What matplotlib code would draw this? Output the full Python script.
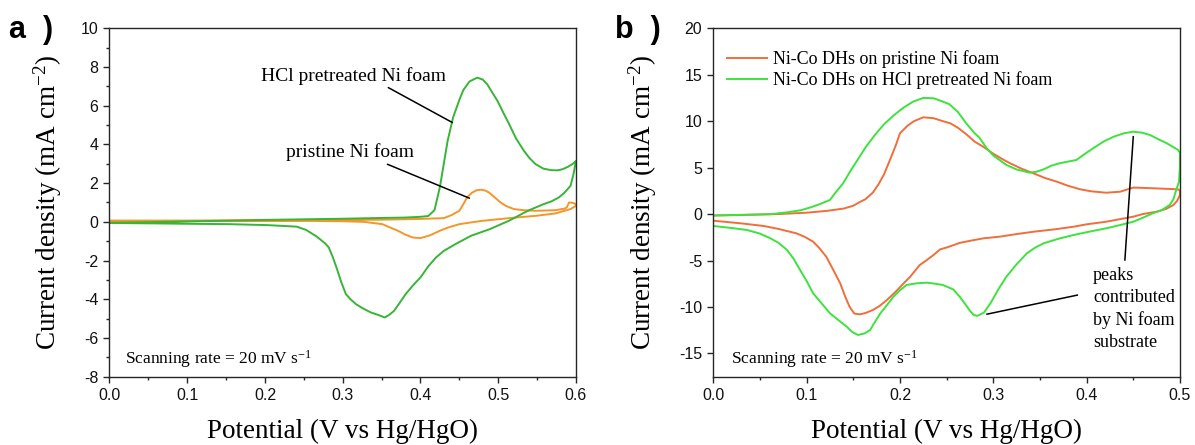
import matplotlib
matplotlib.use("Agg")
import matplotlib.pyplot as plt
from matplotlib.ticker import MultipleLocator
import numpy as np

# ---------------- data: panel a (bare Ni foam CVs) ----------------
a_green_up_v = [0.0, 0.05, 0.10, 0.15, 0.20, 0.25, 0.30, 0.35, 0.38, 0.40, 0.41, 0.418, 0.425, 0.43,
                0.435, 0.442, 0.45, 0.455, 0.463, 0.473, 0.48, 0.486, 0.492, 0.499, 0.507, 0.514,
                0.523, 0.533, 0.54, 0.548, 0.558, 0.568, 0.576, 0.583, 0.59, 0.596, 0.6]
a_green_up_j = [-0.05, -0.02, 0.02, 0.06, 0.10, 0.13, 0.16, 0.20, 0.22, 0.26, 0.30, 0.6, 1.8, 3.0,
                4.2, 5.4, 6.3, 6.8, 7.25, 7.45, 7.35, 7.1, 6.7, 6.25, 5.6, 5.05,
                4.3, 3.67, 3.3, 2.98, 2.75, 2.67, 2.66, 2.72, 2.85, 3.0, 3.15]
a_green_dn_v = [0.6, 0.597, 0.593, 0.585, 0.578, 0.568, 0.558, 0.538, 0.514, 0.489, 0.465, 0.445,
                0.43, 0.42, 0.41, 0.40, 0.39, 0.381, 0.373, 0.366, 0.36, 0.354, 0.345, 0.336,
                0.325, 0.317, 0.31, 0.304, 0.298, 0.292, 0.287, 0.282, 0.277, 0.2665, 0.253,
                0.241, 0.218, 0.203, 0.154, 0.10, 0.056, 0.0]
a_green_dn_j = [3.15, 2.5, 1.86, 1.5, 1.26, 1.05, 0.91, 0.57, 0.06, -0.38, -0.72, -1.15,
                -1.5, -1.84, -2.3, -2.87, -3.3, -3.73, -4.2, -4.6, -4.8, -4.94, -4.8, -4.68,
                -4.45, -4.25, -4.0, -3.73, -3.1, -2.36, -1.8, -1.32, -1.1, -0.76, -0.42,
                -0.25, -0.2, -0.17, -0.12, -0.1, -0.08, -0.06]

a_orange_up_v = [0.0, 0.05, 0.10, 0.15, 0.20, 0.25, 0.30, 0.35, 0.40, 0.43, 0.44, 0.45, 0.455, 0.46,
                 0.466, 0.472, 0.478, 0.483, 0.488, 0.495, 0.503, 0.51, 0.52, 0.533, 0.548, 0.573,
                 0.585, 0.588, 0.59, 0.591, 0.596, 0.6]
a_orange_up_j = [0.06, 0.06, 0.06, 0.07, 0.08, 0.09, 0.10, 0.11, 0.15, 0.19, 0.35, 0.57, 0.9, 1.26,
                 1.5, 1.63, 1.66, 1.62, 1.52, 1.28, 1.0, 0.82, 0.66, 0.6, 0.57, 0.6,
                 0.68, 0.74, 0.9, 1.0, 0.98, 0.91]
a_orange_dn_v = [0.6, 0.593, 0.573, 0.548, 0.514, 0.479, 0.45, 0.435, 0.425, 0.412, 0.40, 0.39,
                 0.38, 0.371, 0.36, 0.351, 0.327, 0.30, 0.253, 0.2, 0.105, 0.05, 0.0]
a_orange_dn_j = [0.83, 0.66, 0.43, 0.31, 0.19, 0.05, -0.12, -0.3, -0.46, -0.7, -0.84, -0.81,
                 -0.65, -0.46, -0.28, -0.12, 0.0, 0.03, 0.05, 0.05, 0.05, 0.05, 0.05]

# ---------------- data: panel b (Ni-Co DHs CVs) ----------------
b_green_up_v = [0.0, 0.03, 0.061, 0.08, 0.094, 0.105, 0.114, 0.125, 0.131, 0.139, 0.147, 0.155, 0.163,
                0.173, 0.183, 0.193, 0.204, 0.214, 0.225, 0.236, 0.246, 0.253, 0.262, 0.271, 0.28,
                0.285, 0.293, 0.3, 0.307, 0.314, 0.325, 0.339, 0.346, 0.354, 0.362, 0.371, 0.38,
                0.389, 0.397, 0.407, 0.418, 0.429, 0.44, 0.45, 0.46, 0.468, 0.478, 0.486, 0.493,
                0.498, 0.5]
b_green_up_j = [-0.15, -0.08, -0.01, 0.2, 0.42, 0.75, 1.07, 1.52, 2.32, 3.3, 4.65, 5.9, 7.16,
                8.5, 9.67, 10.6, 11.47, 12.1, 12.5, 12.47, 12.1, 11.82, 11.0, 9.77, 8.7,
                8.24, 7.08, 6.3, 5.8, 5.29, 4.8, 4.46, 4.55, 4.82, 5.2, 5.47, 5.65,
                5.82, 6.4, 7.08, 7.8, 8.33, 8.7, 8.87, 8.75, 8.51, 8.0, 7.62, 7.2,
                6.9, 6.6]
b_green_dn_v = [0.5, 0.499, 0.496, 0.493, 0.489, 0.48, 0.471, 0.46, 0.45, 0.435, 0.421, 0.4, 0.386,
                0.37, 0.354, 0.345, 0.336, 0.325, 0.314, 0.306, 0.297, 0.29, 0.283, 0.279, 0.275,
                0.27, 0.264, 0.257, 0.246, 0.236, 0.229, 0.218, 0.207, 0.2, 0.193, 0.186, 0.179,
                0.172, 0.168, 0.162, 0.155, 0.149, 0.143, 0.134, 0.125, 0.116, 0.107, 0.1, 0.093,
                0.086, 0.079, 0.07, 0.061, 0.05, 0.036, 0.02, 0.0]
b_green_dn_j = [5.1, 3.5, 2.6, 1.6, 0.98, 0.4, 0.09, -0.4, -0.82, -1.2, -1.53, -1.95, -2.25,
                -2.65, -3.14, -3.6, -4.22, -5.4, -6.74, -8.0, -9.6, -10.6, -10.95, -10.86, -10.41,
                -9.7, -8.89, -8.1, -7.63, -7.47, -7.38, -7.45, -7.63, -8.2, -8.89, -9.8, -10.68,
                -11.8, -12.48, -12.85, -13.01, -12.7, -12.12, -11.4, -10.68, -9.6, -8.53, -7.2, -6.02,
                -4.8, -3.86, -3.1, -2.6, -2.1, -1.71, -1.5, -1.28]

b_orange_up_v = [0.0, 0.03, 0.071, 0.1, 0.122, 0.14, 0.15, 0.157, 0.163, 0.171, 0.177, 0.183, 0.19,
                 0.196, 0.2, 0.208, 0.215, 0.225, 0.236, 0.246, 0.254, 0.262, 0.271, 0.28, 0.289,
                 0.3, 0.31, 0.318, 0.33, 0.343, 0.355, 0.368, 0.38, 0.393, 0.405, 0.421, 0.436,
                 0.445, 0.45, 0.46, 0.471, 0.485, 0.498, 0.5]
b_orange_up_j = [-0.15, -0.1, 0.01, 0.15, 0.35, 0.6, 0.9, 1.3, 1.6, 2.32, 3.2, 4.29, 6.0,
                 7.52, 8.7, 9.5, 10.0, 10.42, 10.32, 10.0, 9.77, 9.3, 8.6, 7.8, 7.26,
                 6.5, 5.9, 5.47, 4.9, 4.39, 3.9, 3.49, 3.05, 2.67, 2.45, 2.3, 2.41,
                 2.7, 2.85, 2.82, 2.78, 2.72, 2.67, 2.5]
b_orange_dn_v = [0.5, 0.497, 0.493, 0.485, 0.475, 0.46, 0.45, 0.421, 0.4, 0.386, 0.365, 0.343, 0.325,
                 0.307, 0.29, 0.279, 0.264, 0.25, 0.243, 0.236, 0.228, 0.221, 0.211, 0.204, 0.196,
                 0.186, 0.178, 0.171, 0.163, 0.157, 0.151, 0.146, 0.141, 0.136, 0.128, 0.121, 0.114,
                 0.107, 0.098, 0.089, 0.07, 0.054, 0.03, 0.0]
b_orange_dn_j = [2.06, 1.43, 0.98, 0.55, 0.26, 0.0, -0.28, -0.82, -1.1, -1.36, -1.65, -1.9, -2.15,
                 -2.43, -2.6, -2.8, -3.1, -3.6, -3.8, -4.4, -5.0, -5.5, -6.74, -7.45, -8.3,
                 -9.25, -9.9, -10.32, -10.65, -10.79, -10.7, -9.97, -8.8, -7.45, -5.9, -4.58, -3.7,
                 -2.97, -2.45, -2.07, -1.6, -1.28, -1.0, -0.71]

legend_labels = ["Ni-Co DHs on pristine Ni foam", "Ni-Co DHs on HCl pretreated Ni foam"]
xlabel = "Potential (V vs Hg/HgO)"
ylabel = "Current density (mA cm$^{-2}$)"
rate_text = "Scanning rate = 20 mV s$^{-1}$"

# ---------------- style ----------------
plt.rcParams["font.family"] = ["Liberation Serif", "DejaVu Serif"]
plt.rcParams["mathtext.default"] = "regular"
plt.rcParams["axes.unicode_minus"] = False

GREEN_A = "#36b536"
ORANGE_A = "#f5952a"
GREEN_B = "#3de33d"
ORANGE_B = "#f06e3a"
SPINE = "#262626"
LW = 1.4

fig = plt.figure(figsize=(11.95, 4.45), dpi=100)
ax_a = fig.add_axes([0.0916, 0.1535, 0.3904, 0.783])
ax_b = fig.add_axes([0.5969, 0.1535, 0.3905, 0.783])


def style_axes(ax):
    for s in ax.spines.values():
        s.set_color(SPINE)
        s.set_linewidth(1.0)
    ax.tick_params(which="both", direction="out", top=False, right=False,
                   color=SPINE, labelfontfamily="Liberation Sans", labelsize=11.5,
                   labelcolor="#111111")
    ax.tick_params(which="major", length=4.5, width=1.0, pad=3.5)
    ax.tick_params(which="minor", length=2.5, width=1.0)
    ax.set_xlabel(xlabel, fontsize=19.5)
    ax.set_ylabel(ylabel, fontsize=19.5)


# ---- panel a ----
ax = ax_a
ax.plot(np.concatenate([a_orange_up_v, a_orange_dn_v]),
        np.concatenate([a_orange_up_j, a_orange_dn_j]), color=ORANGE_A, lw=LW)
ax.plot(np.concatenate([a_green_up_v, a_green_dn_v]),
        np.concatenate([a_green_up_j, a_green_dn_j]), color=GREEN_A, lw=LW)
ax.set_xlim(0.0, 0.6)
ax.set_ylim(-8, 10)
ax.xaxis.set_major_locator(MultipleLocator(0.1))
ax.xaxis.set_minor_locator(MultipleLocator(0.05))
ax.yaxis.set_major_locator(MultipleLocator(2))
ax.yaxis.set_minor_locator(MultipleLocator(1))
ax.xaxis.set_major_formatter(matplotlib.ticker.FormatStrFormatter("%.1f"))
style_axes(ax)
ax.yaxis.set_label_coords(-0.097, 0.5)
ax.xaxis.set_label_coords(0.5, -0.12)
ax.annotate("HCl pretreated Ni foam", xy=(0.441, 5.13), xytext=(0.195, 7.54),
            fontsize=14, va="center", ha="left",
            arrowprops=dict(arrowstyle="-", color="black", lw=1.1,
                            shrinkA=0, shrinkB=0, relpos=(0.66, 0.0)))
ax.annotate("pristine Ni foam", xy=(0.463, 1.22), xytext=(0.227, 3.58),
            fontsize=14, va="center", ha="left",
            arrowprops=dict(arrowstyle="-", color="black", lw=1.1,
                            shrinkA=0, shrinkB=0, relpos=(0.74, 0.0)))
ax.text(0.02, -7.09, rate_text, fontsize=12.5, va="center", ha="left")
fig.text(9 / 1195, 1 - 38 / 445, "a  )", fontsize=22, fontweight="bold",
         family="Liberation Sans", va="baseline", ha="left")

# ---- panel b ----
ax = ax_b
l1, = ax.plot(np.concatenate([b_orange_up_v, b_orange_dn_v]),
              np.concatenate([b_orange_up_j, b_orange_dn_j]), color=ORANGE_B, lw=LW)
l2, = ax.plot(np.concatenate([b_green_up_v, b_green_dn_v]),
              np.concatenate([b_green_up_j, b_green_dn_j]), color=GREEN_B, lw=LW)
ax.set_xlim(0.0, 0.5)
ax.set_ylim(-17.5, 20)
ax.xaxis.set_major_locator(MultipleLocator(0.1))
ax.xaxis.set_minor_locator(MultipleLocator(0.05))
ax.yaxis.set_major_locator(MultipleLocator(5))
ax.xaxis.set_major_formatter(matplotlib.ticker.FormatStrFormatter("%.1f"))
style_axes(ax)
ax.yaxis.set_label_coords(-0.117, 0.5)
ax.xaxis.set_label_coords(0.5, -0.12)
leg = ax.legend([l1, l2], legend_labels, loc="upper left", bbox_to_anchor=(0.03, 0.936),
                frameon=False, fontsize=13, handlelength=2.2, handletextpad=0.35,
                borderaxespad=0, borderpad=0, labelspacing=0.16)
ax.plot([0.45, 0.441], [8.33, -4.94], color="black", lw=1.1)
ax.plot([0.2933, 0.390], [-10.77, -8.72], color="black", lw=1.1)
ax.text(0.407, -10.2, "peaks\ncontributed\nby Ni foam\nsubstrate", fontsize=13,
        va="center", ha="left", linespacing=1.38)
ax.text(0.0187, -15.6, rate_text, fontsize=12.5, va="center", ha="left")
fig.text(615 / 1195, 1 - 38 / 445, "b  )", fontsize=22, fontweight="bold",
         family="Liberation Sans", va="baseline", ha="left")

fig.savefig("out.png", dpi=100)
